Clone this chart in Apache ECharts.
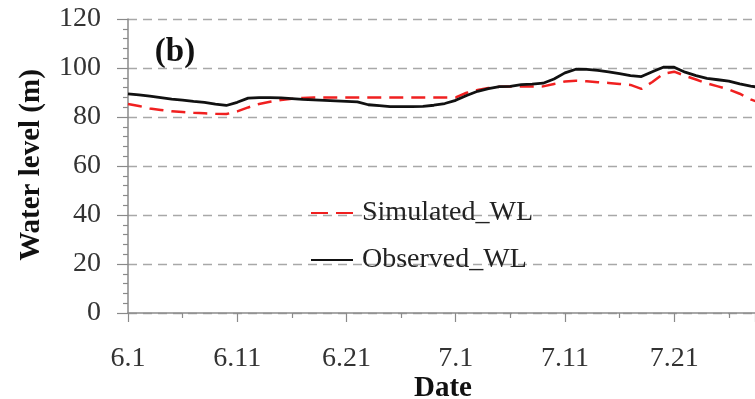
<!DOCTYPE html>
<html>
<head>
<meta charset="utf-8">
<script src="https://cdn.jsdelivr.net/npm/echarts@6/dist/echarts.min.js"></script>
<style>
  html, body { margin: 0; padding: 0; background: #fff; }
  #chart { width: 755px; height: 399px; }
</style>
</head>
<body>
<div id="chart"></div>
<script>
// Day offsets counted from 1 June
const days = [0, 1, 2, 3, 4, 5, 6, 7, 8, 9, 10, 11, 12, 13, 14, 15, 16, 17, 18, 19,
  20, 21, 22, 23, 24, 25, 26, 27, 28, 29, 30, 31, 32, 33, 34, 35, 36, 37, 38, 39,
  40, 41, 42, 43, 44, 45, 46, 47, 48, 49, 50, 51, 52, 53, 54, 55, 56, 57, 58];

// Observed water level (m)
const observedWL = [89.4, 89.0, 88.5, 87.9, 87.3, 86.9, 86.4, 86.0, 85.3, 84.7,
  86.0, 87.7, 87.9, 87.9, 87.8, 87.5, 87.2, 87.0, 86.8, 86.6,
  86.4, 86.2, 85.0, 84.6, 84.2, 84.2, 84.2, 84.3, 84.8, 85.5,
  86.8, 88.8, 90.5, 91.6, 92.4, 92.5, 93.2, 93.4, 93.8, 95.5,
  98.0, 99.5, 99.4, 99.0, 98.4, 97.7, 96.9, 96.5, 98.5, 100.3,
  100.3, 98.3, 96.9, 95.8, 95.2, 94.6, 93.5, 92.6, 92.0];

// Simulated water level (m)
const simulatedWL = [85.3, 84.5, 83.5, 82.9, 82.3, 82.0, 81.7, 81.5, 81.3, 81.2,
  82.3, 83.9, 85.3, 86.2, 86.9, 87.4, 87.8, 88.0, 88.0, 88.0,
  88.0, 88.0, 88.0, 88.0, 88.0, 88.0, 88.0, 88.0, 88.0, 88.0,
  88.0, 89.9, 91.0, 91.8, 92.3, 92.4, 92.4, 92.4, 92.5, 93.5,
  94.5, 94.8, 94.6, 94.2, 93.9, 93.5, 93.1, 91.5, 94.3, 97.6,
  98.5, 96.8, 95.3, 93.7, 92.5, 91.2, 89.5, 87.2, 85.5];

// Date tick labels
const tickDays = [0, 10, 20, 30, 40, 50];
const tickLabels = ['6.1', '6.11', '6.21', '7.1', '7.11', '7.21'];

const serif = '"Liberation Serif", "DejaVu Serif", serif';

const pairs = (vals) => days.map((d, i) => [d, vals[i]]);

const chart = echarts.init(document.getElementById('chart'), null, { renderer: 'canvas' });

chart.setOption({
  animation: false,
  backgroundColor: '#ffffff',
  grid: { left: 128, right: 0, top: 19, bottom: 86, containLabel: false },
  xAxis: {
    type: 'value',
    min: 0,
    max: 57.4,
    interval: 10,
    axisLine: { show: true, onZero: false, lineStyle: { color: '#8a8a8a', width: 1.5 } },
    axisTick: { show: true, length: 9, lineStyle: { color: '#8a8a8a', width: 1.2 } },
    minorTick: { show: true, splitNumber: 2, length: 5, lineStyle: { color: '#8a8a8a', width: 1.2 } },
    splitLine: { show: false },
    axisLabel: {
      margin: 32,
      fontFamily: serif,
      fontSize: 28,
      color: '#333',
      showMaxLabel: false,
      formatter: (v) => {
        const k = tickDays.indexOf(Math.round(v * 10) / 10);
        return k >= 0 ? tickLabels[k] : '';
      }
    }
  },
  yAxis: {
    type: 'value',
    min: 0,
    max: 120,
    interval: 20,
    axisLine: { show: true, lineStyle: { color: '#8a8a8a', width: 1.5 } },
    axisTick: { show: true, length: 11, lineStyle: { color: '#8a8a8a', width: 1.2 } },
    minorTick: { show: true, splitNumber: 5, length: 5, lineStyle: { color: '#8a8a8a', width: 1.2 } },
    splitLine: { show: true, lineStyle: { color: '#a8a8a8', width: 1.3, type: [9, 6] } },
    axisLabel: {
      margin: 27,
      fontFamily: serif,
      fontSize: 28,
      color: '#333'
    }
  },
  legend: {
    orient: 'vertical',
    left: 305,
    top: 194,
    itemWidth: 42,
    itemHeight: 14,
    itemGap: 19,
    itemStyle: { opacity: 0 },
    lineStyle: { type: [17, 8] },
    textStyle: { fontFamily: serif, fontSize: 28, color: '#222', padding: [0, 0, 0, 4] },
    data: [
      { name: 'Simulated_WL' },
      { name: 'Observed_WL', lineStyle: { type: 'solid' } }
    ]
  },
  graphic: [
    {
      type: 'text',
      x: 32, y: 165,
      rotation: Math.PI / 2,
      style: {
        text: 'Water level (m)',
        font: 'bold 29px ' + serif,
        fill: '#111',
        textAlign: 'center',
        textVerticalAlign: 'middle'
      }
    },
    {
      type: 'text',
      x: 443, y: 389,
      style: {
        text: 'Date',
        font: 'bold 29px ' + serif,
        fill: '#111',
        textAlign: 'center',
        textVerticalAlign: 'middle'
      }
    },
    {
      type: 'text',
      x: 175, y: 52,
      style: {
        text: '(b)',
        font: 'bold 33px ' + serif,
        fill: '#111',
        textAlign: 'center',
        textVerticalAlign: 'middle'
      }
    }
  ],
  series: [
    {
      name: 'Simulated_WL',
      type: 'line',
      data: pairs(simulatedWL),
      symbol: 'none',
      smooth: false,
      lineStyle: { color: '#f02020', width: 2.5, type: [14, 8] },
      itemStyle: { color: '#f02020' },
      z: 3
    },
    {
      name: 'Observed_WL',
      type: 'line',
      data: pairs(observedWL),
      symbol: 'none',
      smooth: false,
      lineStyle: { color: '#111', width: 2.8 },
      itemStyle: { color: '#111' },
      z: 4
    }
  ]
});
</script>
</body>
</html>
